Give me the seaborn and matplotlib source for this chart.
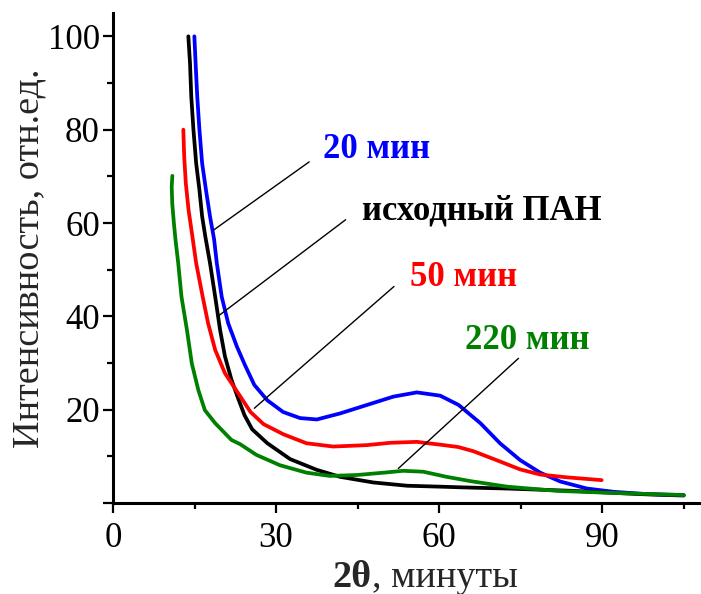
import numpy as np
import pandas as pd
import matplotlib
matplotlib.use("Agg")
import matplotlib.pyplot as plt
import seaborn as sns
from matplotlib.ticker import FixedLocator

# ---- data ----
blue_x = [14.97, 15.2, 15.5, 15.9, 16.4, 17.1, 17.85, 18.6, 19.1, 20.0, 21.2, 22.8, 24.3, 26.0,
          28.4, 31.3, 34.4, 37.5, 41.8, 46.7, 51.6, 55.9, 60.2, 63.6, 67.6, 71.2, 74.9, 78.6,
          82.3, 87.2, 92.1, 98.2, 105.0]
blue_y = [100, 94.2, 87.1, 80.0, 72.8, 67.1, 61.4, 56.5, 51.4, 44.2, 38.5, 33.5, 29.5, 25.3,
          22.0, 19.5, 18.2, 17.9, 19.2, 21.0, 22.8, 23.7, 23.0, 21.0, 17.1, 12.8, 9.2, 6.5,
          4.6, 3.1, 2.4, 1.9, 1.7]

black_x = [13.86, 14.17, 14.4, 14.8, 15.3, 15.9, 16.4, 17.0, 17.85, 18.8, 19.7, 20.6, 21.8,
           23.0, 24.2, 25.6, 28.4, 32.6, 37.5, 41.8, 47.9, 54.1, 60.2, 65.7, 72.5, 84.7,
           97.0, 105.0]
black_y = [100, 94.2, 87.1, 80, 72.8, 67.1, 61.4, 57, 51.4, 44.2, 37.1, 31.4, 26.4,
           22.5, 18.8, 15.8, 12.8, 9.4, 7.1, 5.6, 4.4, 3.7, 3.5, 3.3, 3.1, 2.6,
           1.9, 1.6]

red_x = [12.94, 13.1, 13.4, 13.9, 14.5, 15.3, 16.5, 17.5, 18.8, 20.6, 23.1, 25.3, 27.7, 31.4,
         35.6, 40.5, 46.7, 51.0, 55.9, 60.2, 63.5, 66.3, 71.2, 74.9, 78.6, 83.5, 89.9]
red_y = [80, 74.2, 68.5, 62.8, 58.0, 51.4, 44.2, 38.5, 32.8, 27.8, 23.4, 19.5, 16.9, 14.7,
         12.8, 12.1, 12.4, 12.9, 13.1, 12.5, 12.0, 11.1, 8.9, 7.2, 6.1, 5.5, 4.9]

green_x = [10.92, 10.8, 10.9, 11.2, 11.5, 12.0, 12.6, 13.6, 14.5, 15.7, 16.9, 18.8, 21.8,
           23.4, 26.4, 30.7, 35.6, 39.9, 44.9, 49.8, 53.4, 57.1, 61.4, 65.7, 72.5, 81.7,
           90.9, 105.0]
green_y = [70.1, 67.8, 64.2, 60, 56.4, 51.4, 44.2, 37.1, 29.9, 24.2, 19.9, 17.1, 13.5,
           12.6, 10.3, 8.1, 6.5, 5.8, 6.0, 6.5, 6.9, 6.7, 5.6, 4.7, 3.5, 2.6,
           2.2, 1.7]

series_names = ["20 мин", "исходный ПАН", "50 мин", "220 мин"]
series_colors = ["#0000ff", "#000000", "#ff0000", "#008000"]

# label text anchor (data coords, left/baseline) and leader lines
label_pos = [(38.6, 74.0), (45.8, 60.7), (54.7, 46.5), (64.8, 33.0)]
leader_lines = [((18.4, 58.4), (36.1, 73.1)),
                ((19.3, 40.0), (42.8, 60.7)),
                ((26.0, 20.3), (51.7, 46.4)),
                ((52.5, 7.4), (74.6, 31.0))]

x_major = [0, 30, 60, 90]
x_minor = [15, 45, 75, 105]
y_major = [0, 20, 40, 60, 80, 100]
y_minor = [10, 30, 50, 70, 90]

frames = []
for name, xs, ys in zip(series_names, [blue_x, black_x, red_x, green_x],
                        [blue_y, black_y, red_y, green_y]):
    frames.append(pd.DataFrame({"x": xs, "y": ys, "series": name}))
df = pd.concat(frames, ignore_index=True)

# ---- style ----
sns.set_style("ticks")
plt.rcParams["font.family"] = ["Liberation Serif", "DejaVu Serif"]

fig = plt.figure(figsize=(7.01, 5.94), dpi=100)
W, H = 701, 594
ax = fig.add_axes([113 / W, 91 / H, (700 - 113) / W, (503 - 13) / H])

sns.lineplot(data=df, x="x", y="y", hue="series", hue_order=series_names,
             palette=dict(zip(series_names, series_colors)), sort=False,
             estimator=None, linewidth=2.7, legend=False, ax=ax,
             solid_capstyle="round", solid_joinstyle="round")

ax.set_xlim(0, 108)
ax.set_ylim(0, 105)

for (p0, p1) in leader_lines:
    ax.plot([p0[0], p1[0]], [p0[1], p1[1]], color="black", lw=1.0)

for name, col, (tx, ty) in zip(series_names, series_colors, label_pos):
    ax.text(tx, ty, name, color=col, fontsize=25, fontweight="bold",
            ha="left", va="baseline")

ax.xaxis.set_major_locator(FixedLocator(x_major))
ax.xaxis.set_minor_locator(FixedLocator(x_minor))
ax.yaxis.set_major_locator(FixedLocator(y_major))
ax.yaxis.set_minor_locator(FixedLocator(y_minor))
ax.set_xticklabels([str(v) for v in x_major])
ax.set_yticklabels(["" if v == 0 else str(v) for v in y_major])

ax.tick_params(axis="both", which="major", direction="out", length=7.5, width=1.6,
               labelsize=25, color="black", labelcolor="black")
ax.tick_params(axis="both", which="minor", direction="out", length=4, width=1.6,
               color="black")
ax.tick_params(axis="x", which="major", pad=6)
ax.tick_params(axis="y", which="major", pad=2)

sns.despine(ax=ax)
for s in ["left", "bottom"]:
    ax.spines[s].set_linewidth(2.2)
    ax.spines[s].set_color("black")

ax.set_xlabel("")
ax.set_ylabel("")

fig.text(29 / W, 1 - 258 / H, "Интенсивность, отн.ед.", rotation=90,
         fontsize=27.5, ha="center", va="center")
fig.text(372 / W, 1 - 587 / H, "2θ", fontsize=27.5, fontweight="bold",
         ha="right", va="baseline")
fig.text(372 / W, 1 - 587 / H, ", минуты", fontsize=27.5,
         ha="left", va="baseline")

fig.savefig("out.png", dpi=100, facecolor="white")
